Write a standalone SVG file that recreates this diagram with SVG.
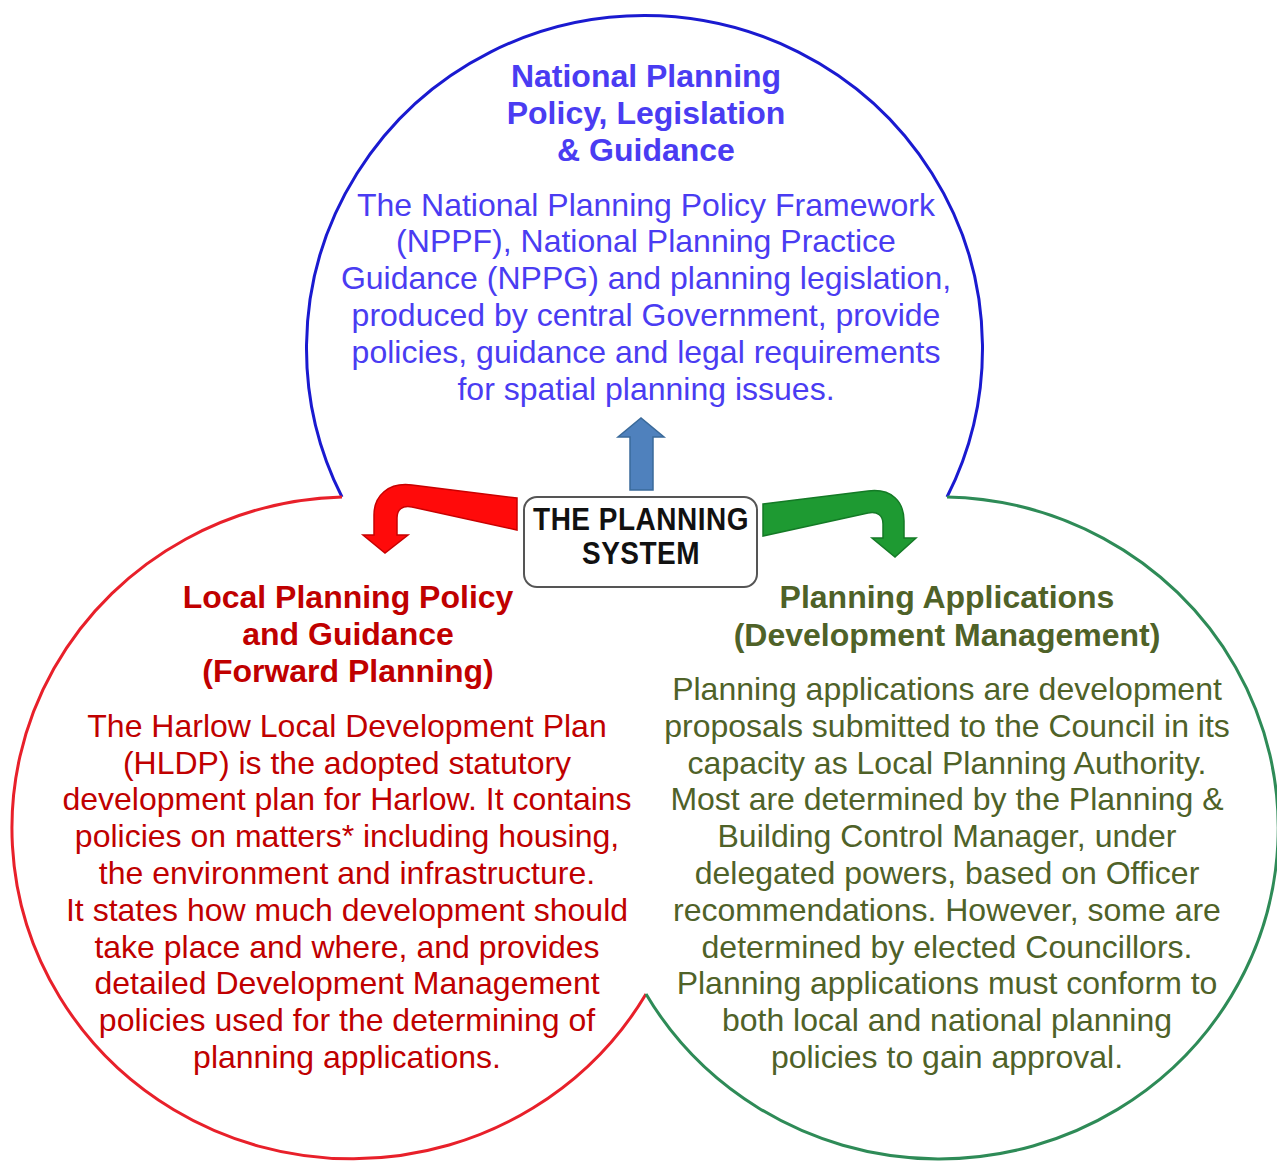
<svg xmlns="http://www.w3.org/2000/svg" width="1277" height="1162" viewBox="0 0 1277 1162">
<style>
.t{font-family:"Liberation Sans",Arial,sans-serif;font-size:32px;text-anchor:middle}
.b{font-weight:bold}
.blue{fill:#4a3cf2}
.red{fill:#c00000}
.green{fill:#4f6228}
.arc{fill:none;stroke-width:3}
.box{font-family:"Liberation Sans",Arial,sans-serif;font-size:28px;font-weight:bold;text-anchor:middle;fill:#111;letter-spacing:0.5px}
</style>
<rect width="1277" height="1162" fill="#ffffff"/>
<g id="national">
<path class="arc" stroke="#1a1ad0" d="M342,497 A338,333 0 1,1 947,497"/>
<text class="t b blue"><tspan x="646" y="87">National Planning</tspan><tspan x="646" y="124">Policy, Legislation</tspan><tspan x="646" y="161">&amp; Guidance</tspan></text>
<text class="t blue"><tspan x="646" y="216">The National Planning Policy Framework</tspan><tspan x="646" y="252">(NPPF), National Planning Practice</tspan><tspan x="646" y="289">Guidance (NPPG) and planning legislation,</tspan><tspan x="646" y="326">produced by central Government, provide</tspan><tspan x="646" y="363">policies, guidance and legal requirements</tspan><tspan x="646" y="400">for spatial planning issues.</tspan></text>
</g>
<g id="local">
<path class="arc" stroke="#e8202a" d="M342,497 A340,331 0 1,0 646,994"/>
<text class="t b red"><tspan x="348" y="608">Local Planning Policy</tspan><tspan x="348" y="645">and Guidance</tspan><tspan x="348" y="682">(Forward Planning)</tspan></text>
<text class="t red"><tspan x="347" y="737">The Harlow Local Development Plan</tspan><tspan x="347" y="774">(HLDP) is the adopted statutory</tspan><tspan x="347" y="810">development plan for Harlow. It contains</tspan><tspan x="347" y="847">policies on matters* including housing,</tspan><tspan x="347" y="884">the environment and infrastructure.</tspan><tspan x="347" y="921">It states how much development should</tspan><tspan x="347" y="958">take place and where, and provides</tspan><tspan x="347" y="994">detailed Development Management</tspan><tspan x="347" y="1031">policies used for the determining of</tspan><tspan x="347" y="1068">planning applications.</tspan></text>
</g>
<g id="applications">
<path class="arc" stroke="#2e8b57" d="M947,497 A339,331 0 1,1 646,994"/>
<text class="t b green"><tspan x="947" y="608">Planning Applications</tspan><tspan x="947" y="646">(Development Management)</tspan></text>
<text class="t green"><tspan x="947" y="700">Planning applications are development</tspan><tspan x="947" y="737">proposals submitted to the Council in its</tspan><tspan x="947" y="774">capacity as Local Planning Authority.</tspan><tspan x="947" y="810">Most are determined by the Planning &amp;</tspan><tspan x="947" y="847">Building Control Manager, under</tspan><tspan x="947" y="884">delegated powers, based on Officer</tspan><tspan x="947" y="921">recommendations. However, some are</tspan><tspan x="947" y="958">determined by elected Councillors.</tspan><tspan x="947" y="994">Planning applications must conform to</tspan><tspan x="947" y="1031">both local and national planning</tspan><tspan x="947" y="1068">policies to gain approval.</tspan></text>
</g>
<g id="connectors">
<path d="M630,490 L630,437 L618,437 L641,418 L664,437 L653,437 L653,490 Z" fill="#4f81bd" stroke="#3a6a9a" stroke-width="1.5"/>
<path d="M517,498 L412,485 C388,482 374,496 374,515 L374,535 L363,535 L385,553 L408,535 L397,535 L397,518 C397,510 402,505 412,507 L517,530 Z" fill="#ff0a0a" stroke="#c80000" stroke-width="1.5"/>
<path d="M763,504 L868,491 C892,488 904,502 904,521 L904,538 L916,538 L895,557 L872,538 L883,538 L883,524 C883,516 878,511 868,513 L763,536 Z" fill="#1e9a32" stroke="#147a26" stroke-width="1.5"/>
</g>
<g id="planning-system">
<rect x="524" y="497" width="233" height="90" rx="13" ry="13" fill="#ffffff" stroke="#555" stroke-width="2"/>
<text class="box" transform="translate(641,530) scale(1,1.12)" x="0" y="0">THE PLANNING</text>
<text class="box" transform="translate(641,564) scale(1,1.12)" x="0" y="0">SYSTEM</text>
</g>
</svg>
